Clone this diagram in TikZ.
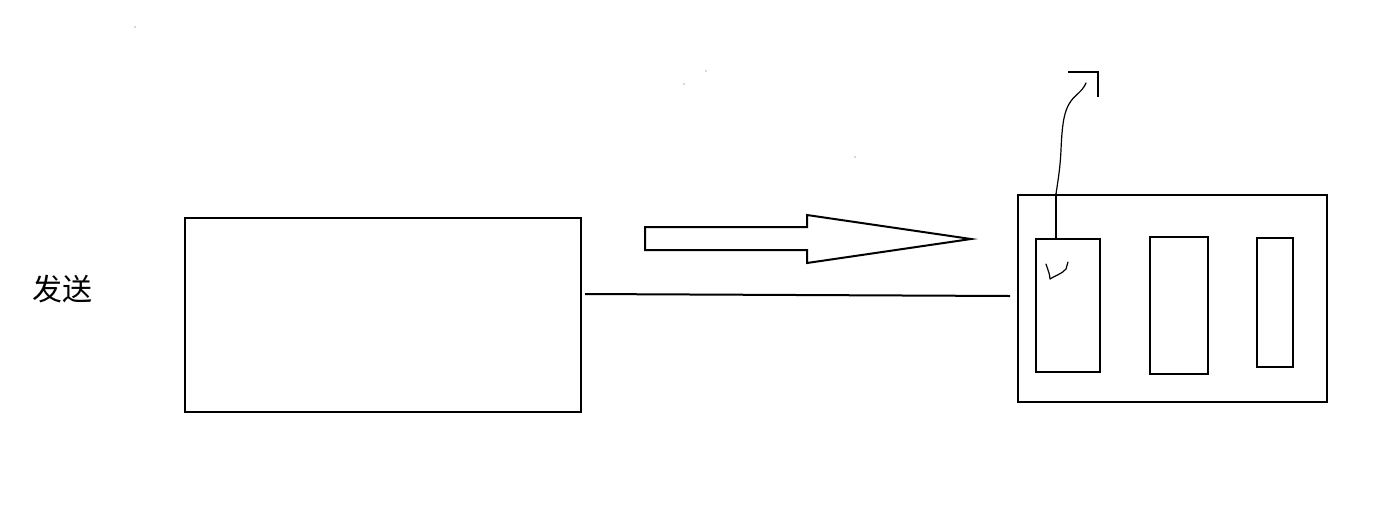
\documentclass[tikz,border=0pt]{standalone}
\usepackage{fontspec}
\newfontfamily\cjk{Noto Sans CJK SC}
\begin{document}
\begin{tikzpicture}[x=1pt,y=-1pt,
  box/.style={draw=black,line width=2.3pt,minimum width=#1,inner sep=0pt,anchor=north west},
  wire/.style={draw=black,line width=2pt},
  pen/.style={draw=black,line width=1.2pt,line cap=round,line join=round},
  speck/.style={fill=black!30,draw=none}]
\useasboundingbox (0,0) rectangle (1398,515);
\fill[white] (0,0) rectangle (1398,515);
% label
\node[font=\cjk\fontsize{30}{33}\selectfont] (lbl) at (62,289) {发送};
% left box
\node[box=396pt,minimum height=194pt] (left) at (184,217) {};
% block arrow
\draw[line width=2pt,line join=miter] (645,227) -- (807,227) -- (807,215) -- (971,239) -- (807,263) -- (807,250) -- (645,250) -- cycle;
% line
\coordinate (l1) at (585,294);
\coordinate (l2) at (1010,296);
\draw[wire] (l1) -- (l2);
% right box
\node[box=309pt,minimum height=207pt] (outer) at (1017,194) {};
\node[box=64pt,minimum height=133pt] (r1) at (1035,238) {};
\node[box=58pt,minimum height=137pt] (r2) at (1149,236) {};
\node[box=36pt,minimum height=129pt] (r3) at (1256,237) {};
% wire up
\coordinate (w0) at (1056,194);
\coordinate (wtop) at (1086,83);
\draw[pen] (r1.north west -| w0) -- (w0);
\draw[pen] (w0) .. controls (1058,180) and (1060,170) .. (1061,150)
  .. controls (1062,125) and (1064,110) .. (1071,101)
  .. controls (1076,94) and (1082,92) .. (wtop);
% corner mark
\coordinate (c1) at (1068,72);
\coordinate (c2) at (1098,72);
\coordinate (c3) at (1098,97);
\draw[line width=1.6pt] (c1) -- (c2) -- (c3);
% small squiggle inside r1
\draw[pen] (1046,264) .. controls (1048,270) and (1050,275) .. (1050,279)
  .. controls (1054,276) and (1062,274) .. (1066,269) -- (1068,262);
% specks
\fill[speck] (135,27) circle (0.8);
\fill[speck] (706,71) circle (0.8);
\fill[speck] (684,84) circle (0.8);
\fill[speck] (855,157) circle (0.8);
\end{tikzpicture}
\end{document}
